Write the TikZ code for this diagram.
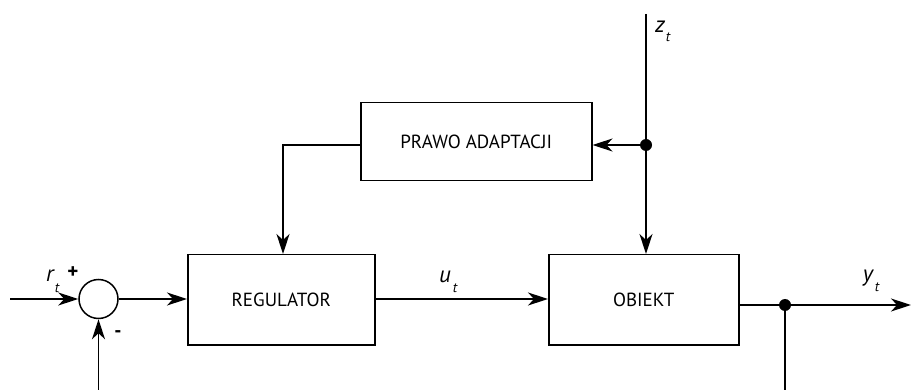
\documentclass[tikz,border=0pt]{standalone}
\usepackage{fontspec}
\setmainfont{PT Sans}
\usetikzlibrary{arrows.meta}
\begin{document}
\begin{tikzpicture}[x=1pt,y=-1pt,
  line width=1.5pt,
  font=\fontsize{19}{22}\selectfont,
  block/.style={draw, rectangle, inner sep=0pt, anchor=north west},
  arr/.style={-{Stealth[length=20pt,width=13pt,inset=6pt]}},
  junction/.style={circle, fill, inner sep=0pt, minimum size=12pt},
  sig/.style={inner sep=0pt, font=\fontsize{23}{26}\selectfont\itshape},
  sub/.style={inner sep=0pt, font=\fontsize{14}{16}\selectfont\itshape}]
\useasboundingbox (0,0) rectangle (911,390);

% blocks
\node[block, minimum width=187pt, minimum height=90pt] (reg) at (187,254) {};
\node at (reg.center) {REGULATOR};
\node[block, minimum width=190pt, minimum height=90pt] (obj) at (548,254) {};
\node at (obj.center) {OBIEKT};
\node[block, minimum width=231pt, minimum height=78pt] (adapt) at (360,102) {};
\node at (adapt.center) {PRAWO ADAPTACJI};

% summing point
\node[draw, circle, minimum size=39pt, inner sep=0pt] (sum) at (98.5,299) {};

% signal end points
\coordinate (rin) at (10,299);
\coordinate (fb) at (98.5,390);
\coordinate (ztop) at (646,14);
\coordinate (yout) at (911,305);
\coordinate (ybot) at (785,390);
\node[junction] (zj) at (646,145) {};
\node[junction] (yj) at (785,305) {};

% connections
\draw[arr] (rin) -- (sum.west);
\draw[arr] (fb) -- (sum.south);
\draw[arr] (sum.east) -- (reg.west |- sum.east);
\draw[arr] (reg.east |- 0,299) -- (obj.west |- 0,299);
\draw (ztop) -- (zj.center);
\draw[arr] (zj.center) -- (obj.north -| zj);
\draw[arr] (zj.center) -- (adapt.east |- zj);
\draw[arr] (adapt.west |- zj) -| (reg.north -| 283,0);
\draw (obj.east |- yj) -- (yj.center);
\draw[arr] (yj.center) -- (yout);
\draw (yj.center) -- (ybot);

% labels
\node[sig] at (50,276) {r};
\node[sub] at (57,288) {t};
\node[inner sep=0pt, font=\fontsize{21}{22}\selectfont\bfseries] at (73,273) {+};
\node[inner sep=0pt, font=\fontsize{20}{22}\selectfont\bfseries] at (118,334) {-};
\node[sig] at (445,277) {u};
\node[sub] at (455,288) {t};
\node[sig] at (660,27) {z};
\node[sub] at (668,37) {t};
\node[sig] at (868,278) {y};
\node[sub] at (877,287) {t};
\end{tikzpicture}
\end{document}
